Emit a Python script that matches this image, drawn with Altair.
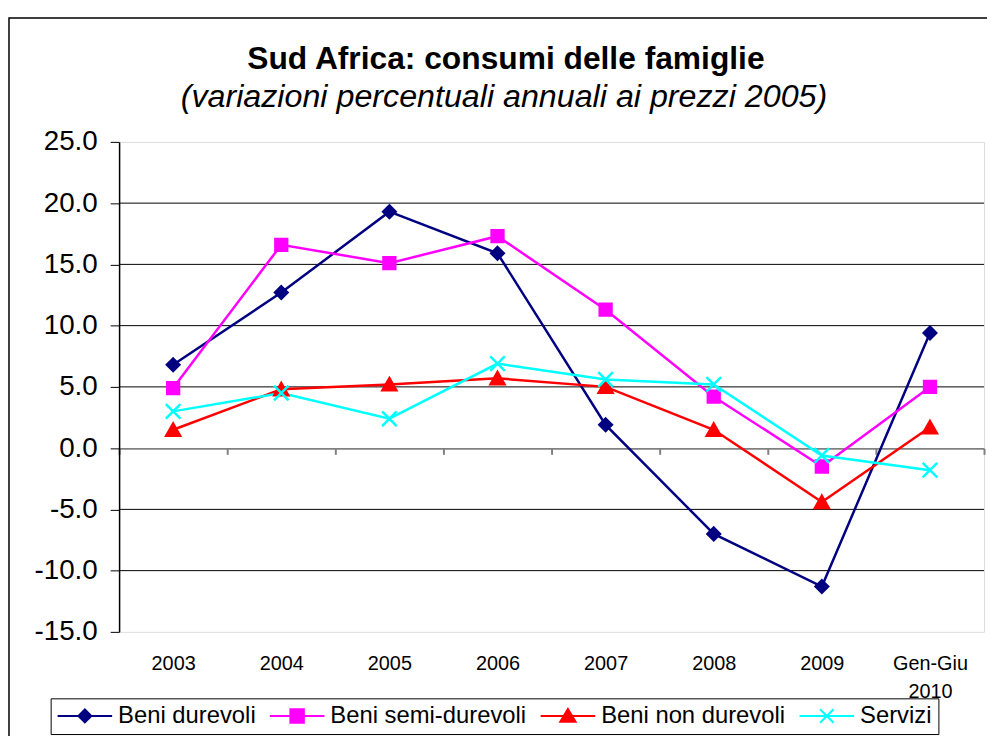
import altair as alt
import pandas as pd

categories = ["2003", "2004", "2005", "2006", "2007", "2008", "2009", "Gen-Giu 2010"]
series_names = ["Beni durevoli", "Beni semi-durevoli", "Beni non durevoli", "Servizi"]
beni_durevoli = [6.8, 12.7, 19.3, 15.9, 1.9, -7.0, -11.3, 9.4]
beni_semi_durevoli = [4.9, 16.6, 15.1, 17.3, 11.3, 4.2, -1.5, 5.0]
beni_non_durevoli = [1.5, 4.8, 5.2, 5.7, 5.0, 1.5, -4.4, 1.7]
servizi = [3.0, 4.5, 2.4, 6.9, 5.6, 5.2, -0.6, -1.8]
series_colors = ["#000080", "#FF00FF", "#FF0000", "#00FFFF"]
y_ticks = [-15, -10, -5, 0, 5, 10, 15, 20, 25]
grid_values = [-10, -5, 5, 10, 15, 20]
title_text = "Sud Africa: consumi delle famiglie"
subtitle_text = "(variazioni percentuali annuali ai prezzi 2005)"

# marker shapes (unit paths) for the plot
marker_paths = [
    "M0,-0.9L0.9,0L0,0.9L-0.9,0Z",
    "M-0.85,-0.85H0.85V0.85H-0.85Z",
    "M0,-0.9L1.0,0.85L-1.0,0.85Z",
    "M-1.05,-1.05L1.05,1.05M-1.05,1.05L1.05,-1.05",
]


# legend symbols: a line with a marker drawn as nested outlines (stroke only)
def _diamond(rs):
    return "".join(f"M0,{-r:.3f}L{r:.3f},0L0,{r:.3f}L{-r:.3f},0Z" for r in rs)


def _square(rs):
    return "".join(f"M{-r:.3f},{-r:.3f}H{r:.3f}V{r:.3f}H{-r:.3f}Z" for r in rs)


def _triangle(rs):
    return "".join(
        f"M0,{-r:.3f}L{1.1 * r:.3f},{0.85 * r:.3f}L{-1.1 * r:.3f},{0.85 * r:.3f}Z" for r in rs
    )


U = 27.5  # half of the legend symbol box in px
rs_d = [x / U for x in (6.5, 5.0, 3.5, 2.0, 0.6)]
rs_s = [x / U for x in (6.8, 5.3, 3.8, 2.3, 0.8)]
rs_t = [x / U for x in (7.0, 5.5, 4.0, 2.5, 1.0)]
rx = 6.8 / U
legend_paths = [
    "M-1,0H1" + _diamond(rs_d),
    "M-1,0H1" + _square(rs_s),
    "M-1,0H1" + _triangle(rs_t),
    f"M-1,0H1M{-rx:.3f},{-rx:.3f}L{rx:.3f},{rx:.3f}M{-rx:.3f},{rx:.3f}L{rx:.3f},{-rx:.3f}",
]

values = [beni_durevoli, beni_semi_durevoli, beni_non_durevoli, servizi]
rows = []
for name, vals in zip(series_names, values):
    for c, v in zip(categories, vals):
        rows.append({"cat": c, "serie": name, "val": v})
df = pd.DataFrame(rows)

FONT = "Liberation Sans"
yscale = alt.Scale(domain=[-15, 25], nice=False, zero=False)
xscale = alt.Scale(type="band", paddingInner=0, paddingOuter=0)

xaxis = alt.Axis(
    title=None, orient="bottom", offset=-185, domainColor="#808080", domainWidth=2,
    tickColor="#808080", tickWidth=2, tickSize=6, tickBand="extent", grid=False,
    labelFont=FONT, labelFontSize=20, labelColor="black", labelPadding=201, labelAngle=0,
    labelBaseline="top",
    labelExpr="datum.label == 'Gen-Giu 2010' ? ['Gen-Giu', '2010'] : datum.label",
    labelLineHeight=28,
)
yaxis = alt.Axis(
    values=y_ticks, title=None, grid=False, domainColor="black", domainWidth=1.5,
    tickColor="black", tickSize=9, tickWidth=1, labelFont=FONT, labelFontSize=28,
    labelColor="black", labelPadding=13,
    labelExpr="replace(format(datum.value, '.1f'), '\u2212', '-')",
)

X = alt.X("cat:N", sort=categories, scale=xscale, axis=xaxis)
Y = alt.Y("val:Q", scale=yscale, axis=yaxis)

frame = alt.Chart(pd.DataFrame({"a": [0]})).mark_rect(
    fillOpacity=0, stroke="black", strokeWidth=1.5
).encode(x=alt.value(-111), x2=alt.value(890), y=alt.value(-125), y2=alt.value(640))

titles = alt.Chart(pd.DataFrame({"t": [title_text]})).mark_text(
    font=FONT, fontSize=32, fontWeight="bold", color="black", align="center", baseline="alphabetic"
).encode(text="t:N", x=alt.value(390), y=alt.value(-73))

subtitles = alt.Chart(pd.DataFrame({"t": [subtitle_text]})).mark_text(
    font=FONT, fontSize=32.5, fontStyle="italic", color="black", align="center", baseline="alphabetic"
).encode(text="t:N", x=alt.value(388), y=alt.value(-35))

grid = alt.Chart(pd.DataFrame({"v": grid_values})).mark_rule(
    color="black", strokeWidth=1
).encode(y=alt.Y("v:Q", scale=yscale, axis=yaxis))

lines = alt.Chart(df).mark_line(strokeWidth=2.5).encode(
    x=X, y=Y,
    color=alt.Color("serie:N", scale=alt.Scale(domain=series_names, range=series_colors), legend=None),
    detail="serie:N",
)

cscale = alt.Scale(domain=series_names, range=series_colors)
points = alt.Chart(df).mark_point(filled=True, size=196, strokeWidth=2.5, opacity=1).encode(
    x=X, y=Y,
    shape=alt.Shape("serie:N", scale=alt.Scale(domain=series_names, range=marker_paths), legend=None),
    fill=alt.Fill("serie:N", scale=cscale, legend=None),
    stroke=alt.Stroke("serie:N", scale=cscale, legend=None),
)

leg = alt.Legend(
    orient="none", legendX=-69, legendY=561, direction="horizontal", columns=4, title=None,
    symbolSize=3025, clipHeight=23, labelFont=FONT, labelFontSize=24, labelColor="black",
    labelOffset=5, columnPadding=13, padding=6, strokeColor="black", fillColor="white",
    symbolStrokeWidth=2, labelLimit=0,
)
legend_layer = alt.Chart(df).mark_point(filled=False, opacity=0, strokeWidth=2).encode(
    x=X, y=Y,
    shape=alt.Shape("serie:N", scale=alt.Scale(domain=series_names, range=legend_paths), legend=leg, title=None),
    color=alt.Color("serie:N", scale=cscale, legend=leg, title=None),
)

chart = alt.layer(frame, titles, subtitles, grid, lines, points, legend_layer).resolve_scale(
    shape="independent", fill="independent", stroke="independent", color="independent"
).properties(
    width=872, height=494,
    padding={"left": 112, "top": 132, "right": 3, "bottom": 102},
    autosize=alt.AutoSizeParams(type="none"),
).configure_view(stroke="#808080", strokeWidth=2).configure(background="white")

chart.save("out.html", embed_options={"renderer": "svg", "actions": False})
